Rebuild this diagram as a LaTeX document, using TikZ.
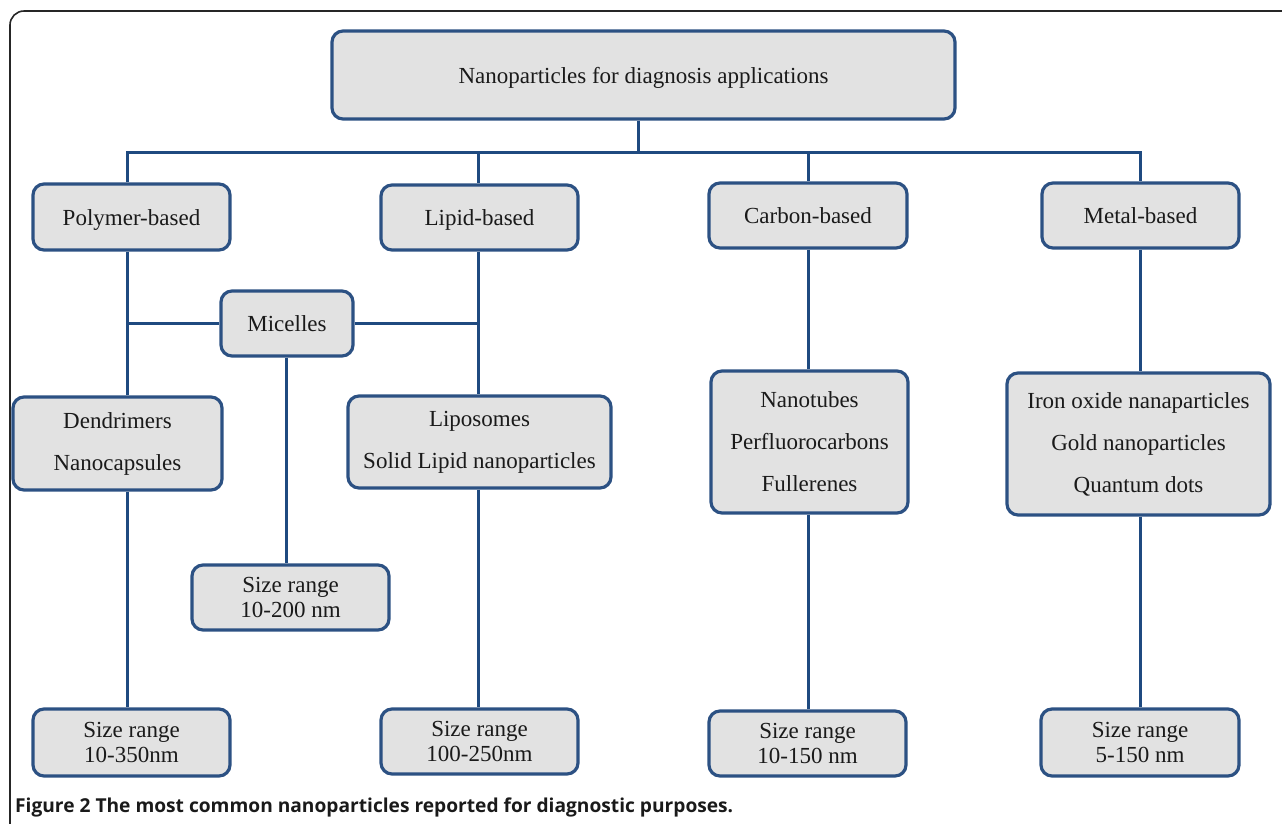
\documentclass[tikz,border=0pt]{standalone}
\usepackage{fontspec}
\setmainfont{Liberation Serif}
\newfontfamily\capfont{Open Sans}
\usetikzlibrary{backgrounds}
\definecolor{boxfill}{HTML}{E2E2E2}
\definecolor{boxline}{HTML}{2C5183}
\definecolor{conn}{HTML}{1F4A80}
\definecolor{txt}{HTML}{1A1A1A}
\begin{document}
\begin{tikzpicture}[x=1pt,y=-1pt,
  bx/.style={draw=boxline, line width=3.2pt, fill=boxfill, rounded corners=11pt, inner sep=0pt, align=center, text=txt, font=\fontsize{23}{28}\selectfont},
  one/.style={bx, text height=18.5pt, text depth=2.5pt},
  big/.style={bx, font=\fontsize{23}{42}\selectfont},
  sz/.style={bx, font=\fontsize{23}{25}\selectfont},
  ln/.style={draw=conn, line width=3pt}]
\useasboundingbox (0,0) rectangle (1282,823);
\draw[black!85, line width=1.6pt, rounded corners=14pt] (10,830) -- (10,11) -- (1290,11);

\node[one, minimum width=623pt, minimum height=88pt] (top) at (643.5,75) {Nanoparticles for diagnosis applications};
\node[one, minimum width=197pt, minimum height=66pt] (poly) at (131.5,217) {Polymer-based};
\node[one, minimum width=197pt, minimum height=65pt] (lipid) at (479.5,217.5) {Lipid-based};
\node[one, minimum width=198pt, minimum height=65pt] (carbon) at (808,215.5) {Carbon-based};
\node[one, minimum width=197pt, minimum height=65pt] (metal) at (1140.5,215.5) {Metal-based};
\node[one, minimum width=132pt, minimum height=65pt] (mic) at (287,323.5) {Micelles};
\node[big, minimum width=209pt, minimum height=93pt] (dend) at (117.5,443.5) {Dendrimers\\Nanocapsules};
\node[big, minimum width=263pt, minimum height=92pt] (lipo) at (479.5,442) {Liposomes\\Solid Lipid nanoparticles};
\node[big, minimum width=197pt, minimum height=142pt] (nano) at (809.5,442) {Nanotubes\\Perfluorocarbons\\Fullerenes};
\node[big, minimum width=263pt, minimum height=142pt] (iron) at (1138.5,444) {Iron oxide nanaparticles\\Gold nanoparticles\\Quantum dots};
\node[sz, minimum width=197pt, minimum height=65pt] (sz2) at (290.5,597.5) {Size range\\10-200 nm};
\node[sz, minimum width=197pt, minimum height=67pt] (sz1) at (131.5,742.5) {Size range\\10-350nm};
\node[sz, minimum width=197pt, minimum height=65pt] (sz3) at (479.5,741.5) {Size range\\100-250nm};
\node[sz, minimum width=197pt, minimum height=65pt] (sz4) at (807.5,743.5) {Size range\\10-150 nm};
\node[sz, minimum width=198pt, minimum height=67pt] (sz5) at (1140,742.5) {Size range\\5-150 nm};

\node[anchor=base west, inner sep=0pt, text=txt] (cap) at (15,812) {\resizebox{718pt}{!}{\capfont\bfseries Figure 2 The most common nanoparticles reported for diagnostic purposes.}};

\coordinate (jt) at (638,152);
\coordinate (c1) at (127,152);
\coordinate (c2) at (478,152);
\coordinate (c3) at (808,152);
\coordinate (c4) at (1140,152);
\coordinate (cm) at (286,323);
\coordinate (m1) at (127,323);
\coordinate (m2) at (478,323);

\begin{scope}[on background layer]
\draw[ln] (top.south -| jt) -- (jt);
\draw[ln] (poly.north -| c1) -- (c1) -- (c4) -- (metal.north -| c4);
\draw[ln] (c2) -- (lipid.north -| c2);
\draw[ln] (c3) -- (carbon.north -| c3);
\draw[ln] (poly.south -| c1) -- (dend.north -| c1);
\draw[ln] (dend.south -| c1) -- (sz1.north -| c1);
\draw[ln] (m1) -- (mic.west |- m1);
\draw[ln] (mic.east |- m2) -- (m2);
\draw[ln] (mic.south -| cm) -- (sz2.north -| cm);
\draw[ln] (lipid.south -| c2) -- (lipo.north -| c2);
\draw[ln] (lipo.south -| c2) -- (sz3.north -| c2);
\draw[ln] (carbon.south -| c3) -- (nano.north -| c3);
\draw[ln] (nano.south -| c3) -- (sz4.north -| c3);
\draw[ln] (metal.south -| c4) -- (iron.north -| c4);
\draw[ln] (iron.south -| c4) -- (sz5.north -| c4);
\end{scope}
\end{tikzpicture}
\end{document}
